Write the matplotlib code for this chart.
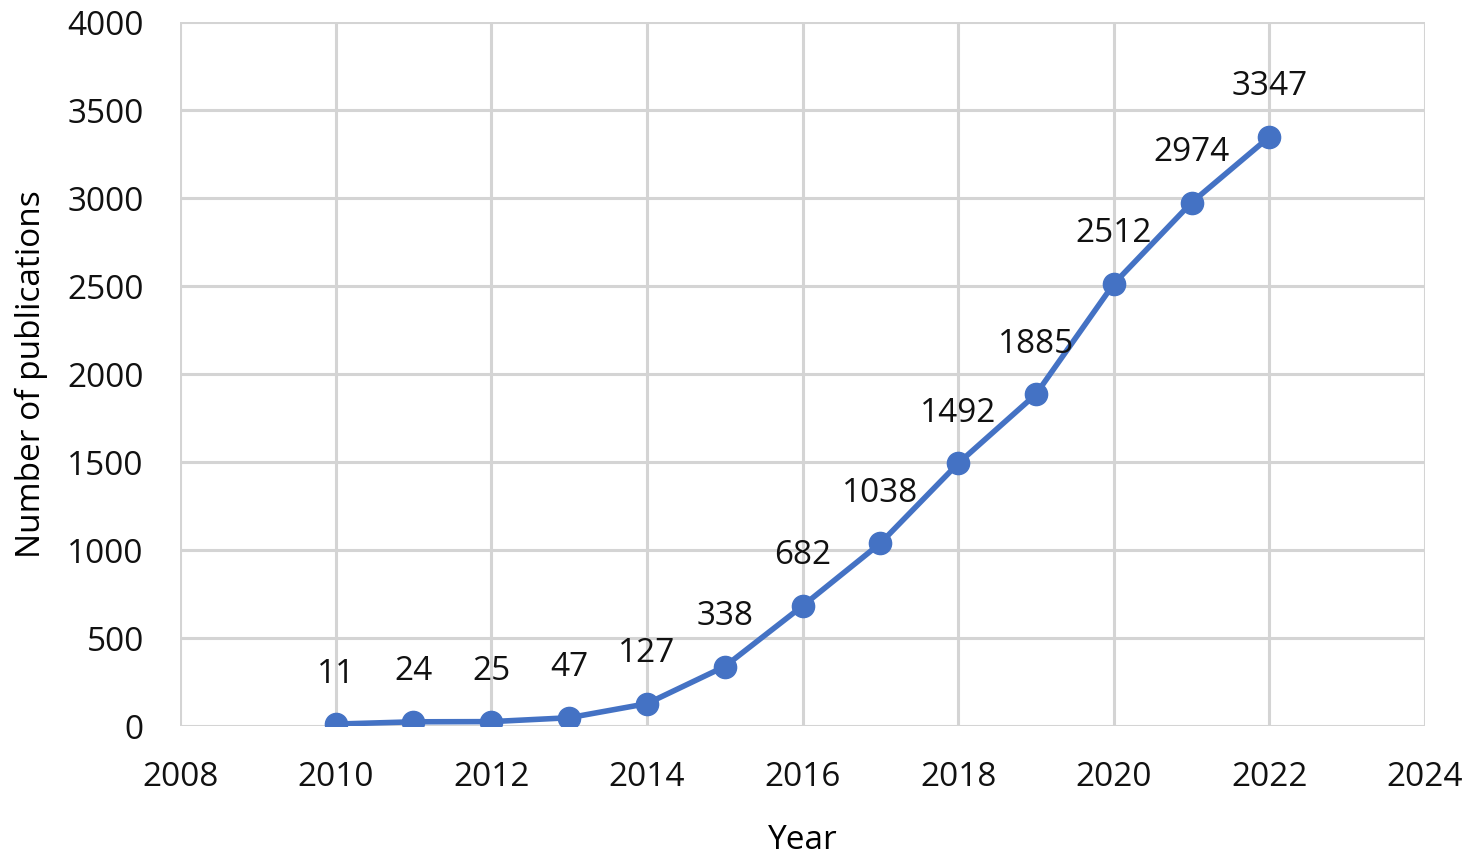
import numpy as np
import matplotlib.pyplot as plt

years = [2010, 2011, 2012, 2013, 2014, 2015, 2016, 2017, 2018, 2019, 2020, 2021, 2022]
pubs = [11, 24, 25, 47, 127, 338, 682, 1038, 1492, 1885, 2512, 2974, 3347]

xticks = list(range(2008, 2025, 2))
yticks = list(range(0, 4001, 500))

plt.rcParams['font.family'] = ['Open Sans', 'DejaVu Sans']

fig = plt.figure(figsize=(14.76, 8.64), dpi=100)
ax = fig.add_axes([0.122, 0.1597, 0.8434, 0.8148])

ax.plot(years, pubs, color='#4472C4', lw=4, marker='o', ms=16, zorder=3)
for x, y in zip(years, pubs):
    ax.annotate(str(y), (x, y), xytext=(0, 36), textcoords='offset points',
                ha='center', va='center', fontsize=24, color='#111111')

ax.set_xlim(2008, 2024)
ax.set_ylim(0, 4000)
ax.set_xticks(xticks)
ax.set_yticks(yticks)
ax.grid(True, color='#D4D4D4', lw=2.2)
ax.set_axisbelow(True)
for s in ax.spines.values():
    s.set_visible(False)
ax.tick_params(length=0, labelsize=24, labelcolor='#111111')
ax.tick_params(axis='y', pad=26)
ax.tick_params(axis='x', pad=25)
ax.set_xlabel('Year', fontsize=24, labelpad=22)
ax.set_ylabel('Number of publications', fontsize=24, labelpad=14)

fig.savefig('out.png', dpi=100)
